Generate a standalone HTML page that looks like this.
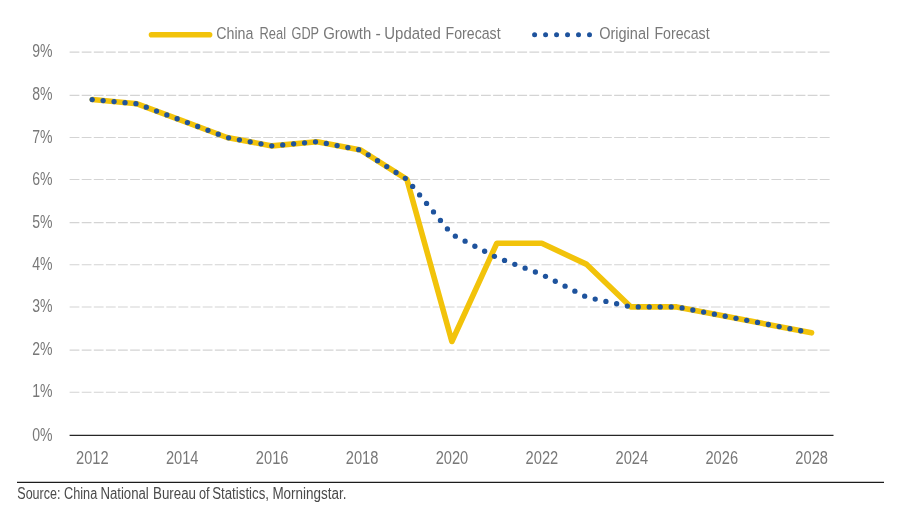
<!DOCTYPE html>
<html><head><meta charset="utf-8"><title>China Real GDP Growth</title>
<style>
html,body{margin:0;padding:0;background:#fff;}
svg{display:block;}
text{font-family:"Liberation Sans",sans-serif;}
.ax{font-size:18px;fill:#787878;}
.lg{font-size:16.9px;fill:#787878;}
.src{font-size:16px;fill:#4a4a4a;}
</style></head><body>
<svg width="907" height="520" viewBox="0 0 907 520">
<rect width="907" height="520" fill="#fff"/>
<line x1="69.6" x2="830" y1="392.20" y2="392.20" stroke="#d4d4d4" stroke-width="1.05" stroke-dasharray="9.8 2.3"/>
<line x1="69.6" x2="830" y1="350.10" y2="350.10" stroke="#d4d4d4" stroke-width="1.05" stroke-dasharray="9.8 2.3"/>
<line x1="69.6" x2="830" y1="306.90" y2="306.90" stroke="#d4d4d4" stroke-width="1.05" stroke-dasharray="9.8 2.3"/>
<line x1="69.6" x2="830" y1="264.70" y2="264.70" stroke="#d4d4d4" stroke-width="1.05" stroke-dasharray="9.8 2.3"/>
<line x1="69.6" x2="830" y1="222.60" y2="222.60" stroke="#d4d4d4" stroke-width="1.05" stroke-dasharray="9.8 2.3"/>
<line x1="69.6" x2="830" y1="179.40" y2="179.40" stroke="#d4d4d4" stroke-width="1.05" stroke-dasharray="9.8 2.3"/>
<line x1="69.6" x2="830" y1="137.50" y2="137.50" stroke="#d4d4d4" stroke-width="1.05" stroke-dasharray="9.8 2.3"/>
<line x1="69.6" x2="830" y1="95.35" y2="95.35" stroke="#d4d4d4" stroke-width="1.05" stroke-dasharray="9.8 2.3"/>
<line x1="69.6" x2="830" y1="52.10" y2="52.10" stroke="#d4d4d4" stroke-width="1.05" stroke-dasharray="9.8 2.3"/>
<line x1="69.6" x2="833.5" y1="435.4" y2="435.4" stroke="#262626" stroke-width="1.2"/>
<text class="ax" x="32.3" y="440.50" textLength="20.3" lengthAdjust="spacingAndGlyphs">0%</text>
<text class="ax" x="32.3" y="397.30" textLength="20.3" lengthAdjust="spacingAndGlyphs">1%</text>
<text class="ax" x="32.3" y="355.20" textLength="20.3" lengthAdjust="spacingAndGlyphs">2%</text>
<text class="ax" x="32.3" y="312.00" textLength="20.3" lengthAdjust="spacingAndGlyphs">3%</text>
<text class="ax" x="32.3" y="269.80" textLength="20.3" lengthAdjust="spacingAndGlyphs">4%</text>
<text class="ax" x="32.3" y="227.70" textLength="20.3" lengthAdjust="spacingAndGlyphs">5%</text>
<text class="ax" x="32.3" y="184.50" textLength="20.3" lengthAdjust="spacingAndGlyphs">6%</text>
<text class="ax" x="32.3" y="142.60" textLength="20.3" lengthAdjust="spacingAndGlyphs">7%</text>
<text class="ax" x="32.3" y="100.45" textLength="20.3" lengthAdjust="spacingAndGlyphs">8%</text>
<text class="ax" x="32.3" y="57.20" textLength="20.3" lengthAdjust="spacingAndGlyphs">9%</text>
<text class="ax" x="76.00" y="463.7" textLength="32.6" lengthAdjust="spacingAndGlyphs">2012</text>
<text class="ax" x="165.92" y="463.7" textLength="32.6" lengthAdjust="spacingAndGlyphs">2014</text>
<text class="ax" x="255.84" y="463.7" textLength="32.6" lengthAdjust="spacingAndGlyphs">2016</text>
<text class="ax" x="345.76" y="463.7" textLength="32.6" lengthAdjust="spacingAndGlyphs">2018</text>
<text class="ax" x="435.68" y="463.7" textLength="32.6" lengthAdjust="spacingAndGlyphs">2020</text>
<text class="ax" x="525.60" y="463.7" textLength="32.6" lengthAdjust="spacingAndGlyphs">2022</text>
<text class="ax" x="615.52" y="463.7" textLength="32.6" lengthAdjust="spacingAndGlyphs">2024</text>
<text class="ax" x="705.44" y="463.7" textLength="32.6" lengthAdjust="spacingAndGlyphs">2026</text>
<text class="ax" x="795.36" y="463.7" textLength="32.6" lengthAdjust="spacingAndGlyphs">2028</text>
<polyline points="92.20,99.56 137.16,103.78 182.12,120.64 227.08,137.50 272.04,145.88 317.00,141.69 360.76,150.07 406.92,179.40 451.88,341.46 496.84,243.25 541.80,243.25 586.76,264.40 630.92,306.90 676.68,306.90 721.64,315.54 766.60,324.18 811.56,332.82" fill="none" stroke="#F2C30A" stroke-width="5.6" stroke-linecap="round" stroke-linejoin="round"/>
<g fill="#1E539D">
<circle cx="92.20" cy="99.56" r="2.65"/>
<circle cx="103.13" cy="100.59" r="2.65"/>
<circle cx="114.06" cy="101.61" r="2.65"/>
<circle cx="125.00" cy="102.64" r="2.65"/>
<circle cx="135.93" cy="103.66" r="2.65"/>
<circle cx="146.28" cy="107.20" r="2.65"/>
<circle cx="156.56" cy="111.06" r="2.65"/>
<circle cx="166.84" cy="114.91" r="2.65"/>
<circle cx="177.13" cy="118.77" r="2.65"/>
<circle cx="187.41" cy="122.62" r="2.65"/>
<circle cx="197.69" cy="126.48" r="2.65"/>
<circle cx="207.97" cy="130.33" r="2.65"/>
<circle cx="218.25" cy="134.19" r="2.65"/>
<circle cx="228.60" cy="137.78" r="2.65"/>
<circle cx="239.40" cy="139.80" r="2.65"/>
<circle cx="250.19" cy="141.81" r="2.65"/>
<circle cx="260.98" cy="143.82" r="2.65"/>
<circle cx="271.78" cy="145.83" r="2.65"/>
<circle cx="282.71" cy="144.89" r="2.65"/>
<circle cx="293.64" cy="143.87" r="2.65"/>
<circle cx="304.57" cy="142.85" r="2.65"/>
<circle cx="315.51" cy="141.83" r="2.65"/>
<circle cx="326.31" cy="143.47" r="2.65"/>
<circle cx="337.09" cy="145.54" r="2.65"/>
<circle cx="347.88" cy="147.60" r="2.65"/>
<circle cx="358.66" cy="149.67" r="2.65"/>
<circle cx="368.22" cy="154.81" r="2.65"/>
<circle cx="377.49" cy="160.70" r="2.65"/>
<circle cx="386.76" cy="166.59" r="2.65"/>
<circle cx="396.03" cy="172.48" r="2.65"/>
<circle cx="405.29" cy="178.37" r="2.65"/>
<circle cx="412.65" cy="186.41" r="2.65"/>
<circle cx="419.60" cy="194.91" r="2.65"/>
<circle cx="426.55" cy="203.41" r="2.65"/>
<circle cx="433.50" cy="211.91" r="2.65"/>
<circle cx="440.45" cy="220.41" r="2.65"/>
<circle cx="447.40" cy="228.91" r="2.65"/>
<circle cx="455.35" cy="236.18" r="2.65"/>
<circle cx="465.11" cy="241.20" r="2.65"/>
<circle cx="474.87" cy="246.23" r="2.65"/>
<circle cx="484.64" cy="251.26" r="2.65"/>
<circle cx="494.40" cy="256.29" r="2.65"/>
<circle cx="504.55" cy="260.43" r="2.65"/>
<circle cx="514.83" cy="264.29" r="2.65"/>
<circle cx="525.11" cy="268.15" r="2.65"/>
<circle cx="535.39" cy="272.00" r="2.65"/>
<circle cx="545.49" cy="276.28" r="2.65"/>
<circle cx="555.28" cy="281.24" r="2.65"/>
<circle cx="565.08" cy="286.20" r="2.65"/>
<circle cx="574.87" cy="291.17" r="2.65"/>
<circle cx="584.66" cy="296.13" r="2.65"/>
<circle cx="595.19" cy="299.05" r="2.65"/>
<circle cx="605.91" cy="301.40" r="2.65"/>
<circle cx="616.64" cy="303.76" r="2.65"/>
<circle cx="627.36" cy="306.12" r="2.65"/>
<circle cx="638.26" cy="306.90" r="2.65"/>
<circle cx="649.24" cy="306.90" r="2.65"/>
<circle cx="660.22" cy="306.90" r="2.65"/>
<circle cx="671.20" cy="306.90" r="2.65"/>
<circle cx="682.08" cy="307.94" r="2.65"/>
<circle cx="692.86" cy="310.01" r="2.65"/>
<circle cx="703.64" cy="312.08" r="2.65"/>
<circle cx="714.42" cy="314.15" r="2.65"/>
<circle cx="725.21" cy="316.23" r="2.65"/>
<circle cx="735.99" cy="318.30" r="2.65"/>
<circle cx="746.77" cy="320.37" r="2.65"/>
<circle cx="757.56" cy="322.44" r="2.65"/>
<circle cx="768.34" cy="324.51" r="2.65"/>
<circle cx="779.12" cy="326.59" r="2.65"/>
<circle cx="789.90" cy="328.66" r="2.65"/>
<circle cx="800.69" cy="330.73" r="2.65"/>
</g>
<line x1="151.5" x2="209.6" y1="34.8" y2="34.8" stroke="#F2C30A" stroke-width="5.6" stroke-linecap="round"/>
<text class="lg" y="38.8"><tspan x="216.2" textLength="37.2" lengthAdjust="spacingAndGlyphs">China</tspan> <tspan x="259.5" textLength="26.5" lengthAdjust="spacingAndGlyphs">Real</tspan> <tspan x="291.5" textLength="27.3" lengthAdjust="spacingAndGlyphs">GDP</tspan> <tspan x="323.2" textLength="48.1" lengthAdjust="spacingAndGlyphs">Growth</tspan> <tspan x="375.5" textLength="5.3" lengthAdjust="spacingAndGlyphs">-</tspan> <tspan x="384.3" textLength="56.6" lengthAdjust="spacingAndGlyphs">Updated</tspan> <tspan x="445.6" textLength="55.0" lengthAdjust="spacingAndGlyphs">Forecast</tspan></text>
<g fill="#1E539D">
<circle cx="534.60" cy="34.8" r="2.5"/>
<circle cx="545.58" cy="34.8" r="2.5"/>
<circle cx="556.56" cy="34.8" r="2.5"/>
<circle cx="567.54" cy="34.8" r="2.5"/>
<circle cx="578.52" cy="34.8" r="2.5"/>
<circle cx="589.50" cy="34.8" r="2.5"/>
</g>
<text class="lg" y="38.8"><tspan x="599.2" textLength="50.0" lengthAdjust="spacingAndGlyphs">Original</tspan> <tspan x="654.4" textLength="55.2" lengthAdjust="spacingAndGlyphs">Forecast</tspan></text>
<line x1="17" x2="884" y1="482.3" y2="482.3" stroke="#1c1c1c" stroke-width="1.15"/>
<text class="src" y="498.8"><tspan x="17.3" textLength="43.1" lengthAdjust="spacingAndGlyphs">Source:</tspan> <tspan x="64" textLength="33.2" lengthAdjust="spacingAndGlyphs">China</tspan> <tspan x="100.4" textLength="48.4" lengthAdjust="spacingAndGlyphs">National</tspan> <tspan x="153" textLength="43.0" lengthAdjust="spacingAndGlyphs">Bureau</tspan> <tspan x="199" textLength="10.6" lengthAdjust="spacingAndGlyphs">of</tspan> <tspan x="212.2" textLength="56.8" lengthAdjust="spacingAndGlyphs">Statistics,</tspan> <tspan x="272.4" textLength="74.0" lengthAdjust="spacingAndGlyphs">Morningstar.</tspan></text>
</svg></body></html>
